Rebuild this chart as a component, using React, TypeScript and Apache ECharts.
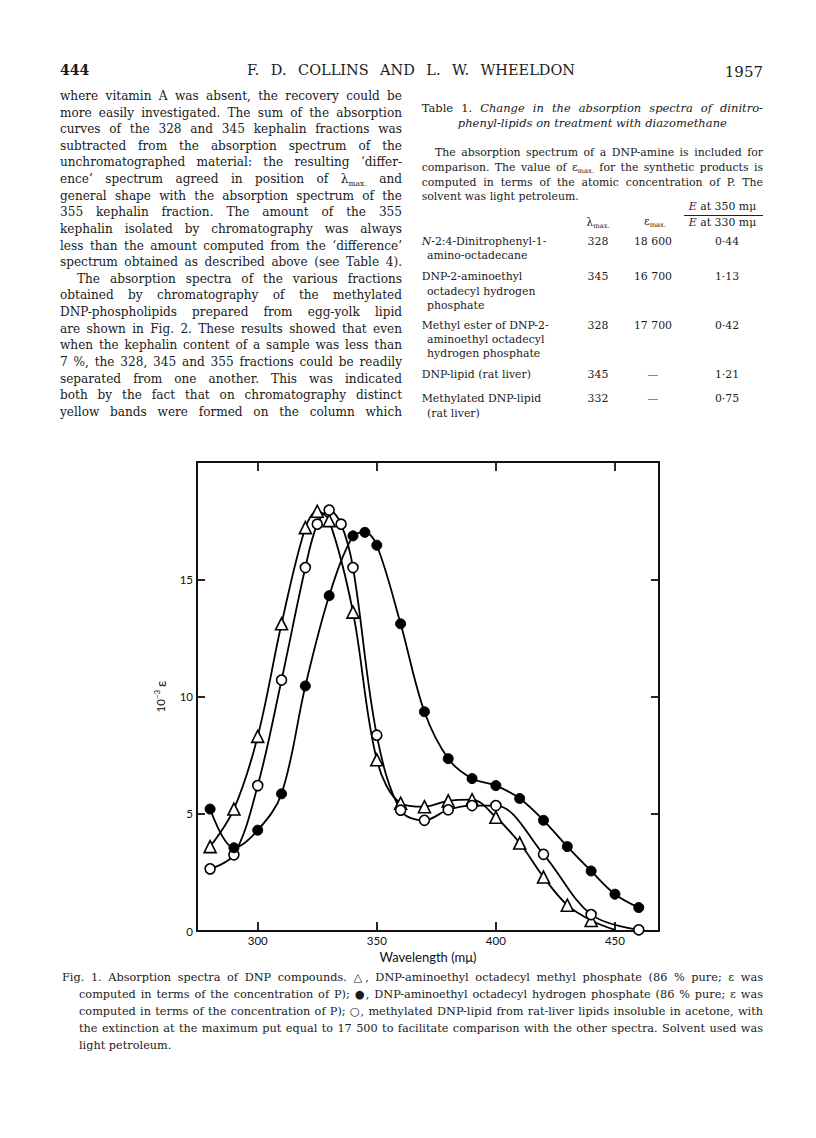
import React, { useEffect, useRef } from "react";
import * as echarts from "echarts";

// ---- Data ----
const triangleX = [280, 290, 300, 310, 320, 325, 330, 340, 350, 360, 370, 380, 390, 400, 410, 420, 430, 440, 450];
const triangleY = [3.6, 5.2, 8.3, 13.1, 17.2, 17.9, 17.5, 13.6, 7.3, 5.45, 5.3, 5.55, 5.6, 4.85, 3.75, 2.3, 1.1, 0.45, 0.05];
const triangleMarked = [1, 1, 1, 1, 1, 1, 1, 1, 1, 1, 1, 1, 1, 1, 1, 1, 1, 1, 0];

const openX = [280, 290, 300, 310, 320, 325, 330, 335, 340, 350, 360, 370, 380, 390, 400, 420, 440, 460];
const openY = [2.65, 3.25, 6.2, 10.7, 15.5, 17.35, 17.95, 17.35, 15.5, 8.35, 5.15, 4.72, 5.17, 5.35, 5.35, 3.27, 0.7, 0.05];

const filledX = [280, 290, 300, 310, 320, 330, 340, 345, 350, 360, 370, 380, 390, 400, 410, 420, 430, 440, 450, 460];
const filledY = [5.2, 3.55, 4.3, 5.85, 10.45, 14.3, 16.85, 17.0, 16.45, 13.1, 9.35, 7.35, 6.5, 6.2, 5.65, 4.72, 3.6, 2.56, 1.57, 1.0];

const xTicks = [300, 350, 400, 450];
const yTickLabels = [0, 5, 10, 15];
const yTicks = [5, 10, 15];

// ---- Page text ----
const bodyLines = [
  "where vitamin A was absent, the recovery could be",
  "more easily investigated. The sum of the absorption",
  "curves of the 328 and 345 kephalin fractions was",
  "subtracted from the absorption spectrum of the",
  "unchromatographed material: the resulting \u2018differ-",
  "LAMBDA",
  "general shape with the absorption spectrum of the",
  "355 kephalin fraction. The amount of the 355",
  "kephalin isolated by chromatography was always",
  "less than the amount computed from the \u2018difference\u2019",
  "spectrum obtained as described above (see Table 4).",
  "The absorption spectra of the various fractions",
  "obtained by chromatography of the methylated",
  "DNP-phospholipids prepared from egg-yolk lipid",
  "are shown in Fig. 2. These results showed that even",
  "when the kephalin content of a sample was less than",
  "7 %, the 328, 345 and 355 fractions could be readily",
  "separated from one another. This was indicated",
  "both by the fact that on chromatography distinct",
  "yellow bands were formed on the column which",
];

const captionLines = [
  "Fig. 1.  Absorption spectra of DNP compounds.  \u25B3, DNP-aminoethyl octadecyl methyl phosphate (86 % pure; \u03B5 was",
  "computed in terms of the concentration of P); \u25CF, DNP-aminoethyl octadecyl hydrogen phosphate (86 % pure; \u03B5 was",
  "computed in terms of the concentration of P); \u25CB, methylated DNP-lipid from rat-liver lipids insoluble in acetone, with",
  "the extinction at the maximum put equal to 17 500 to facilitate comparison with the other spectra.  Solvent used was",
  "light petroleum.",
];

const tableRows = [
  { label: ["N-2:4-Dinitrophenyl-1-", "amino-octadecane"], lmax: "328", emax: "18 600", ratio: "0\u00B744", y: 241.7 },
  { label: ["DNP-2-aminoethyl", "octadecyl hydrogen", "phosphate"], lmax: "345", emax: "16 700", ratio: "1\u00B713", y: 277.3 },
  { label: ["Methyl ester of DNP-2-", "aminoethyl octadecyl", "hydrogen phosphate"], lmax: "328", emax: "17 700", ratio: "0\u00B742", y: 325.7 },
  { label: ["DNP-lipid (rat liver)"], lmax: "345", emax: "\u2014", ratio: "1\u00B721", y: 375 },
  { label: ["Methylated DNP-lipid", "(rat liver)"], lmax: "332", emax: "\u2014", ratio: "0\u00B775", y: 399.3 },
];

const SERIF = "'DejaVu Serif', 'Liberation Serif', serif";
const SANS = "Lato, 'Open Sans', sans-serif";

type LineProps = {
  x: number;
  y: number;
  w?: number;
  size: number;
  justify?: boolean;
  align?: "left" | "center" | "right";
  italic?: boolean;
  bold?: boolean;
  children: React.ReactNode;
};

function Line({ x, y, w, size, justify, align, italic, bold, children }: LineProps) {
  const lh = 16;
  const style: React.CSSProperties = {
    position: "absolute",
    left: x,
    top: y - lh / 2,
    width: w,
    height: lh,
    lineHeight: lh + "px",
    fontFamily: SERIF,
    fontSize: size,
    fontStyle: italic ? "italic" : "normal",
    fontWeight: bold ? 700 : 400,
    color: "#1a1a1a",
    whiteSpace: "nowrap",
    textAlign: justify ? "justify" : align || "left",
    textAlignLast: justify ? "justify" : (align || "left"),
  } as React.CSSProperties;
  return <div style={style}>{children}</div>;
}

const subStyle: React.CSSProperties = { fontSize: "0.62em", verticalAlign: "-0.35em", lineHeight: 0 };

function Chart() {
  const ref = useRef<HTMLDivElement>(null);
  useEffect(() => {
    if (!ref.current) return;
    const chart = echarts.init(ref.current, undefined, { renderer: "svg" });
    const axisLine = { show: true, onZero: false, lineStyle: { color: "#111", width: 2 } };
    const tickStyle = { color: "#111", width: 1.8 };
    const hollow = { color: "#fff", borderColor: "#000", borderWidth: 1.6 };
    const lineStyle = { color: "#000", width: 1.8 };
    const option: any = {
      animation: false,
      grid: { left: 197, top: 462, width: 462, height: 469, containLabel: false },
      xAxis: [
        {
          type: "value",
          position: "bottom",
          min: 274.5,
          max: 468.5,
          axisLine,
          axisTick: { show: true, inside: true, length: 9, customValues: xTicks, lineStyle: tickStyle },
          axisLabel: { customValues: xTicks, fontFamily: SANS, fontSize: 11.5, color: "#111", margin: 3 },
          splitLine: { show: false },
          name: "Wavelength (m\u03BC)",
          nameLocation: "middle",
          nameGap: 19,
          nameTextStyle: { fontFamily: SANS, fontSize: 13, color: "#111" },
        },
        {
          type: "value",
          position: "top",
          min: 274.5,
          max: 468.5,
          axisLine,
          axisTick: { show: true, inside: true, length: 9, customValues: xTicks, lineStyle: tickStyle },
          axisLabel: { show: false },
          splitLine: { show: false },
        },
      ],
      yAxis: [
        {
          type: "value",
          position: "left",
          min: 0,
          max: 20,
          interval: 5,
          axisLine,
          axisTick: { show: true, inside: true, length: 8, customValues: yTicks, lineStyle: tickStyle },
          axisLabel: { customValues: yTickLabels, fontFamily: SANS, fontSize: 11.5, color: "#111", margin: 4 },
          splitLine: { show: false },
          name: "10{sup|\u22123} {eps|\u03B5}",
          nameLocation: "middle",
          nameRotate: 90,
          nameGap: 27,
          nameTextStyle: {
            fontFamily: SANS,
            fontSize: 11.5,
            color: "#111",
            lineHeight: 16,
            rich: {
              sup: { fontFamily: SANS, fontSize: 8, color: "#111", verticalAlign: "top", lineHeight: 9 },
              eps: { fontFamily: SANS, fontSize: 14, color: "#111", lineHeight: 16 },
            },
          },
        },
        {
          type: "value",
          position: "right",
          min: 0,
          max: 20,
          interval: 5,
          axisLine,
          axisTick: { show: true, inside: true, length: 8, customValues: yTicks, lineStyle: tickStyle },
          axisLabel: { show: false },
          splitLine: { show: false },
        },
      ],
      series: [
        {
          type: "line",
          name: "triangle",
          smooth: 0.35,
          symbol: "triangle",
          symbolSize: 12,
          itemStyle: hollow,
          lineStyle,
          data: triangleX.map((x, i) =>
            triangleMarked[i] ? [x, triangleY[i]] : { value: [x, triangleY[i]], symbol: "none" }
          ),
        },
        {
          type: "line",
          name: "open",
          smooth: 0.35,
          symbol: "circle",
          symbolSize: 10,
          itemStyle: hollow,
          lineStyle,
          data: openX.map((x, i) => [x, openY[i]]),
        },
        {
          type: "line",
          name: "filled",
          smooth: 0.35,
          symbol: "circle",
          symbolSize: 10,
          itemStyle: { color: "#000", borderColor: "#000", borderWidth: 1 },
          lineStyle,
          data: filledX.map((x, i) => [x, filledY[i]]),
        },
      ],
    };
    chart.setOption(option);
    return () => chart.dispose();
  }, []);
  return <div ref={ref} style={{ position: "absolute", left: 0, top: 0, width: 816, height: 1138 }} />;
}

export default function App() {
  const bodyX = 60;
  const bodyW = 342;
  const bodyY0 = 96;
  const bodyStep = 16.62;
  const bodySize = 12.1;
  const tX = 421.7;
  const tW = 341.3;
  const tSize = 10.9;
  const capSize = 11.3;
  return (
    <div style={{ position: "absolute", left: 0, top: 0, width: 816, height: 1138, background: "#fff", overflow: "hidden" }}>
      <Chart />
      <div style={{ position: "absolute", left: 0, top: 0, width: 816, height: 1138, pointerEvents: "none" }}>
        {/* header */}
        <Line x={60} y={70} size={14} bold>444</Line>
        <Line x={247} y={70} w={328} size={14.5} justify>F. D. COLLINS AND L. W. WHEELDON</Line>
        <Line x={715} y={72} w={48} size={15} align="right">1957</Line>

        {/* left column */}
        {bodyLines.map((t, i) => {
          const y = bodyY0 + i * bodyStep;
          if (t === "LAMBDA") {
            return (
              <Line key={i} x={bodyX} y={y} w={bodyW} size={bodySize} justify>
                ence{"\u2019"} spectrum agreed in position of {"\u03BB"}<span style={subStyle}>max.</span> and
              </Line>
            );
          }
          const indent = i === 11 ? 17 : 0;
          return (
            <Line key={i} x={bodyX + indent} y={y} w={bodyW - indent} size={bodySize} justify>
              {t}
            </Line>
          );
        })}

        {/* table */}
        <Line x={tX} y={108.3} w={tW} size={11.5} justify>
          Table 1. <i>Change in the absorption spectra of dinitro-</i>
        </Line>
        <Line x={tX} y={123.3} w={tW} size={11.5} align="center" italic>
          phenyl-lipids on treatment with diazomethane
        </Line>
        <Line x={435} y={153.3} w={328} size={tSize} justify>
          The absorption spectrum of a DNP-amine is included for
        </Line>
        <Line x={tX} y={168.3} w={tW} size={tSize} justify>
          comparison. The value of {"\u03B5"}<span style={subStyle}>max.</span> for the synthetic products is
        </Line>
        <Line x={tX} y={183.3} w={tW} size={tSize} justify>
          computed in terms of the atomic concentration of P. The
        </Line>
        <Line x={tX} y={197} size={tSize}>solvent was light petroleum.</Line>

        <Line x={682} y={206.7} w={81} size={tSize} align="center">
          <i>E</i> at 350 m{"\u03BC"}
        </Line>
        <div style={{ position: "absolute", left: 684, top: 214.5, width: 79, height: 1, background: "#222" }} />
        <Line x={682} y={223.3} w={81} size={tSize} align="center">
          <i>E</i> at 330 m{"\u03BC"}
        </Line>
        <Line x={578} y={223.3} w={40} size={tSize} align="center">
          {"\u03BB"}<span style={subStyle}>max.</span>
        </Line>
        <Line x={635} y={222.3} w={40} size={tSize} align="center">
          {"\u03B5"}<span style={subStyle}>max.</span>
        </Line>

        {tableRows.map((r, i) => (
          <React.Fragment key={i}>
            {r.label.map((l, j) => (
              <Line key={j} x={j === 0 ? tX : 427} y={r.y + j * 14.2} size={tSize}>
                {i === 0 && j === 0 ? (
                  <>
                    <i>N</i>-2:4-Dinitrophenyl-1-
                  </>
                ) : (
                  l
                )}
              </Line>
            ))}
            <Line x={578} y={r.y} w={40} size={tSize} align="center">{r.lmax}</Line>
            <Line x={623} y={r.y} w={60} size={tSize} align="center">{r.emax}</Line>
            <Line x={697} y={r.y} w={60} size={tSize} align="center">{r.ratio}</Line>
          </React.Fragment>
        ))}

        {/* caption */}
        {captionLines.map((t, i) => {
          const x = i === 0 ? 62 : 79;
          const last = i === captionLines.length - 1;
          return (
            <Line key={i} x={x} y={978 + i * 17} w={763 - x} size={capSize} justify={!last}>
              {t}
            </Line>
          );
        })}
      </div>
    </div>
  );
}
